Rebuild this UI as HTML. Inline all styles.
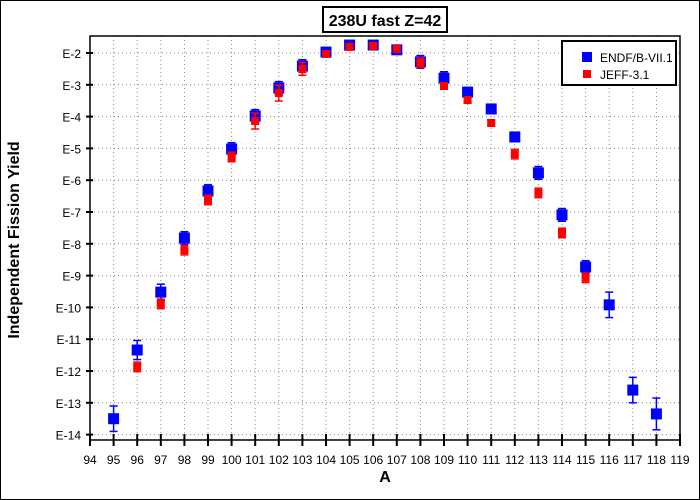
<!DOCTYPE html>
<html><head><meta charset="utf-8"><style>
body{margin:0;background:#fff}
svg{display:block;font-family:"Liberation Sans",sans-serif}
</style></head><body>
<svg width="700" height="500" viewBox="0 0 700 500">
<rect x="0.5" y="0.5" width="699" height="499" fill="#fff" stroke="#000"/>
<g id="grid"></g>
<rect x="90" y="36" width="590" height="404" fill="none" stroke="#000" stroke-width="1.5"/>
<g id="axes"></g>
<g id="marks"></g>
<rect x="323" y="7" width="124" height="25" fill="#fff" stroke="#000" stroke-width="2"/>
<text x="385" y="26" text-anchor="middle" font-size="16" font-weight="bold">238U fast Z=42</text>
<text x="385" y="482" text-anchor="middle" font-size="16" font-weight="bold">A</text>
<text transform="translate(19,240) rotate(-90)" text-anchor="middle" font-size="16" font-weight="bold">Independent Fission Yield</text>
<g>
<rect x="562" y="41" width="114" height="44" fill="#fff" stroke="#000" stroke-width="2"/>
<rect x="582" y="52" width="10" height="10" fill="#0000ff"/>
<text x="600" y="62" font-size="12">ENDF/B-VII.1</text>
<rect x="583" y="70" width="8" height="8" fill="#ff0000"/>
<text x="600" y="79" font-size="12">JEFF-3.1</text>
</g>
</svg>
<script>
const xTicks=[94,95,96,97,98,99,100,101,102,103,104,105,106,107,108,109,110,111,112,113,114,115,116,117,118,119];
const yTickExps=[2,3,4,5,6,7,8,9,10,11,12,13,14];
const endfA=[95,96,97,98,99,100,101,102,103,104,105,106,107,108,109,110,111,112,113,114,115,116,117,118];
const endfExp=[13.5,11.34,9.52,7.82,6.34,5.02,3.98,3.1,2.41,1.97,1.75,1.75,1.9,2.28,2.79,3.23,3.76,4.64,5.77,7.09,8.73,9.92,12.6,13.35];
const endfErr=[0.4,0.3,0.25,0.2,0.2,0.2,0.2,0.2,0.2,0.1,0.08,0.08,0.1,0.2,0.2,0.15,0.15,0.15,0.2,0.2,0.2,0.4,0.4,0.5];
const jeffA=[96,97,98,99,100,101,102,103,104,105,106,107,108,109,110,111,112,113,114,115];
const jeffExp=[11.87,9.89,8.2,6.62,5.27,4.14,3.26,2.5,2.03,1.81,1.78,1.87,2.31,3.04,3.48,4.2,5.18,6.4,7.66,9.07];
const jeffErr=[0.15,0.15,0.15,0.15,0.15,0.25,0.25,0.2,0.1,0.08,0.08,0.08,0.15,0.1,0.1,0.1,0.15,0.15,0.15,0.15];
const NS='http://www.w3.org/2000/svg';
const xs=a=>90+(a-94)*(590/25);
const ys=e=>53+(e-2)*31.8;
function mk(tag,attrs,parent){const el=document.createElementNS(NS,tag);for(const k in attrs)el.setAttribute(k,attrs[k]);document.getElementById(parent).appendChild(el);return el;}
xTicks.forEach(t=>{const x=xs(t);
 if(t>94&&t<119){const g=mk('line',{x1:x,x2:x,y1:36,y2:440,stroke:'#888','stroke-dasharray':'1,3'},'grid');
 
 }
 const tk=mk('line',{x1:x,x2:x,y1:434,y2:446,stroke:'#000','stroke-width':2},'axes');
 
 
 const tl=mk('text',{x:x,y:464,'text-anchor':'middle','font-size':12},'axes');tl.textContent=t;
 
 
});
yTickExps.forEach(e=>{const y=ys(e);
 const g=mk('line',{x1:90,x2:680,y1:y,y2:y,stroke:'#888','stroke-dasharray':'1,3'},'grid');
 
 
 const tk=mk('line',{x1:86,x2:93,y1:y,y2:y,stroke:'#000','stroke-width':2},'axes');
 
 
 const tl=mk('text',{x:81,y:y+5,'text-anchor':'end','font-size':12},'axes');tl.textContent='E-'+e;
 
 
});
function series(A,E,Er,col,size,name){
 A.forEach((a,i)=>{const x=xs(a),y=ys(E[i]),y1=ys(E[i]-Er[i]),y2=ys(E[i]+Er[i]);
  const l=mk('line',{x1:x,x2:x,y1:y1,y2:y2,stroke:col,'stroke-width':1.5},'marks');
  
  
  [y1,y2].forEach(yy=>{const c=mk('line',{x1:x-4,x2:x+4,y1:yy,y2:yy,stroke:col,'stroke-width':1.5},'marks');
   
   });
  const r=mk('rect',{x:x-size/2,y:y-size/2,width:size,height:size,fill:col},'marks');
  
  
 });
}
series(endfA,endfExp,endfErr,'#0000ff',11,'endf');
series(jeffA,jeffExp,jeffErr,'#ff0000',8,'jeff');
</script>
</body></html>
